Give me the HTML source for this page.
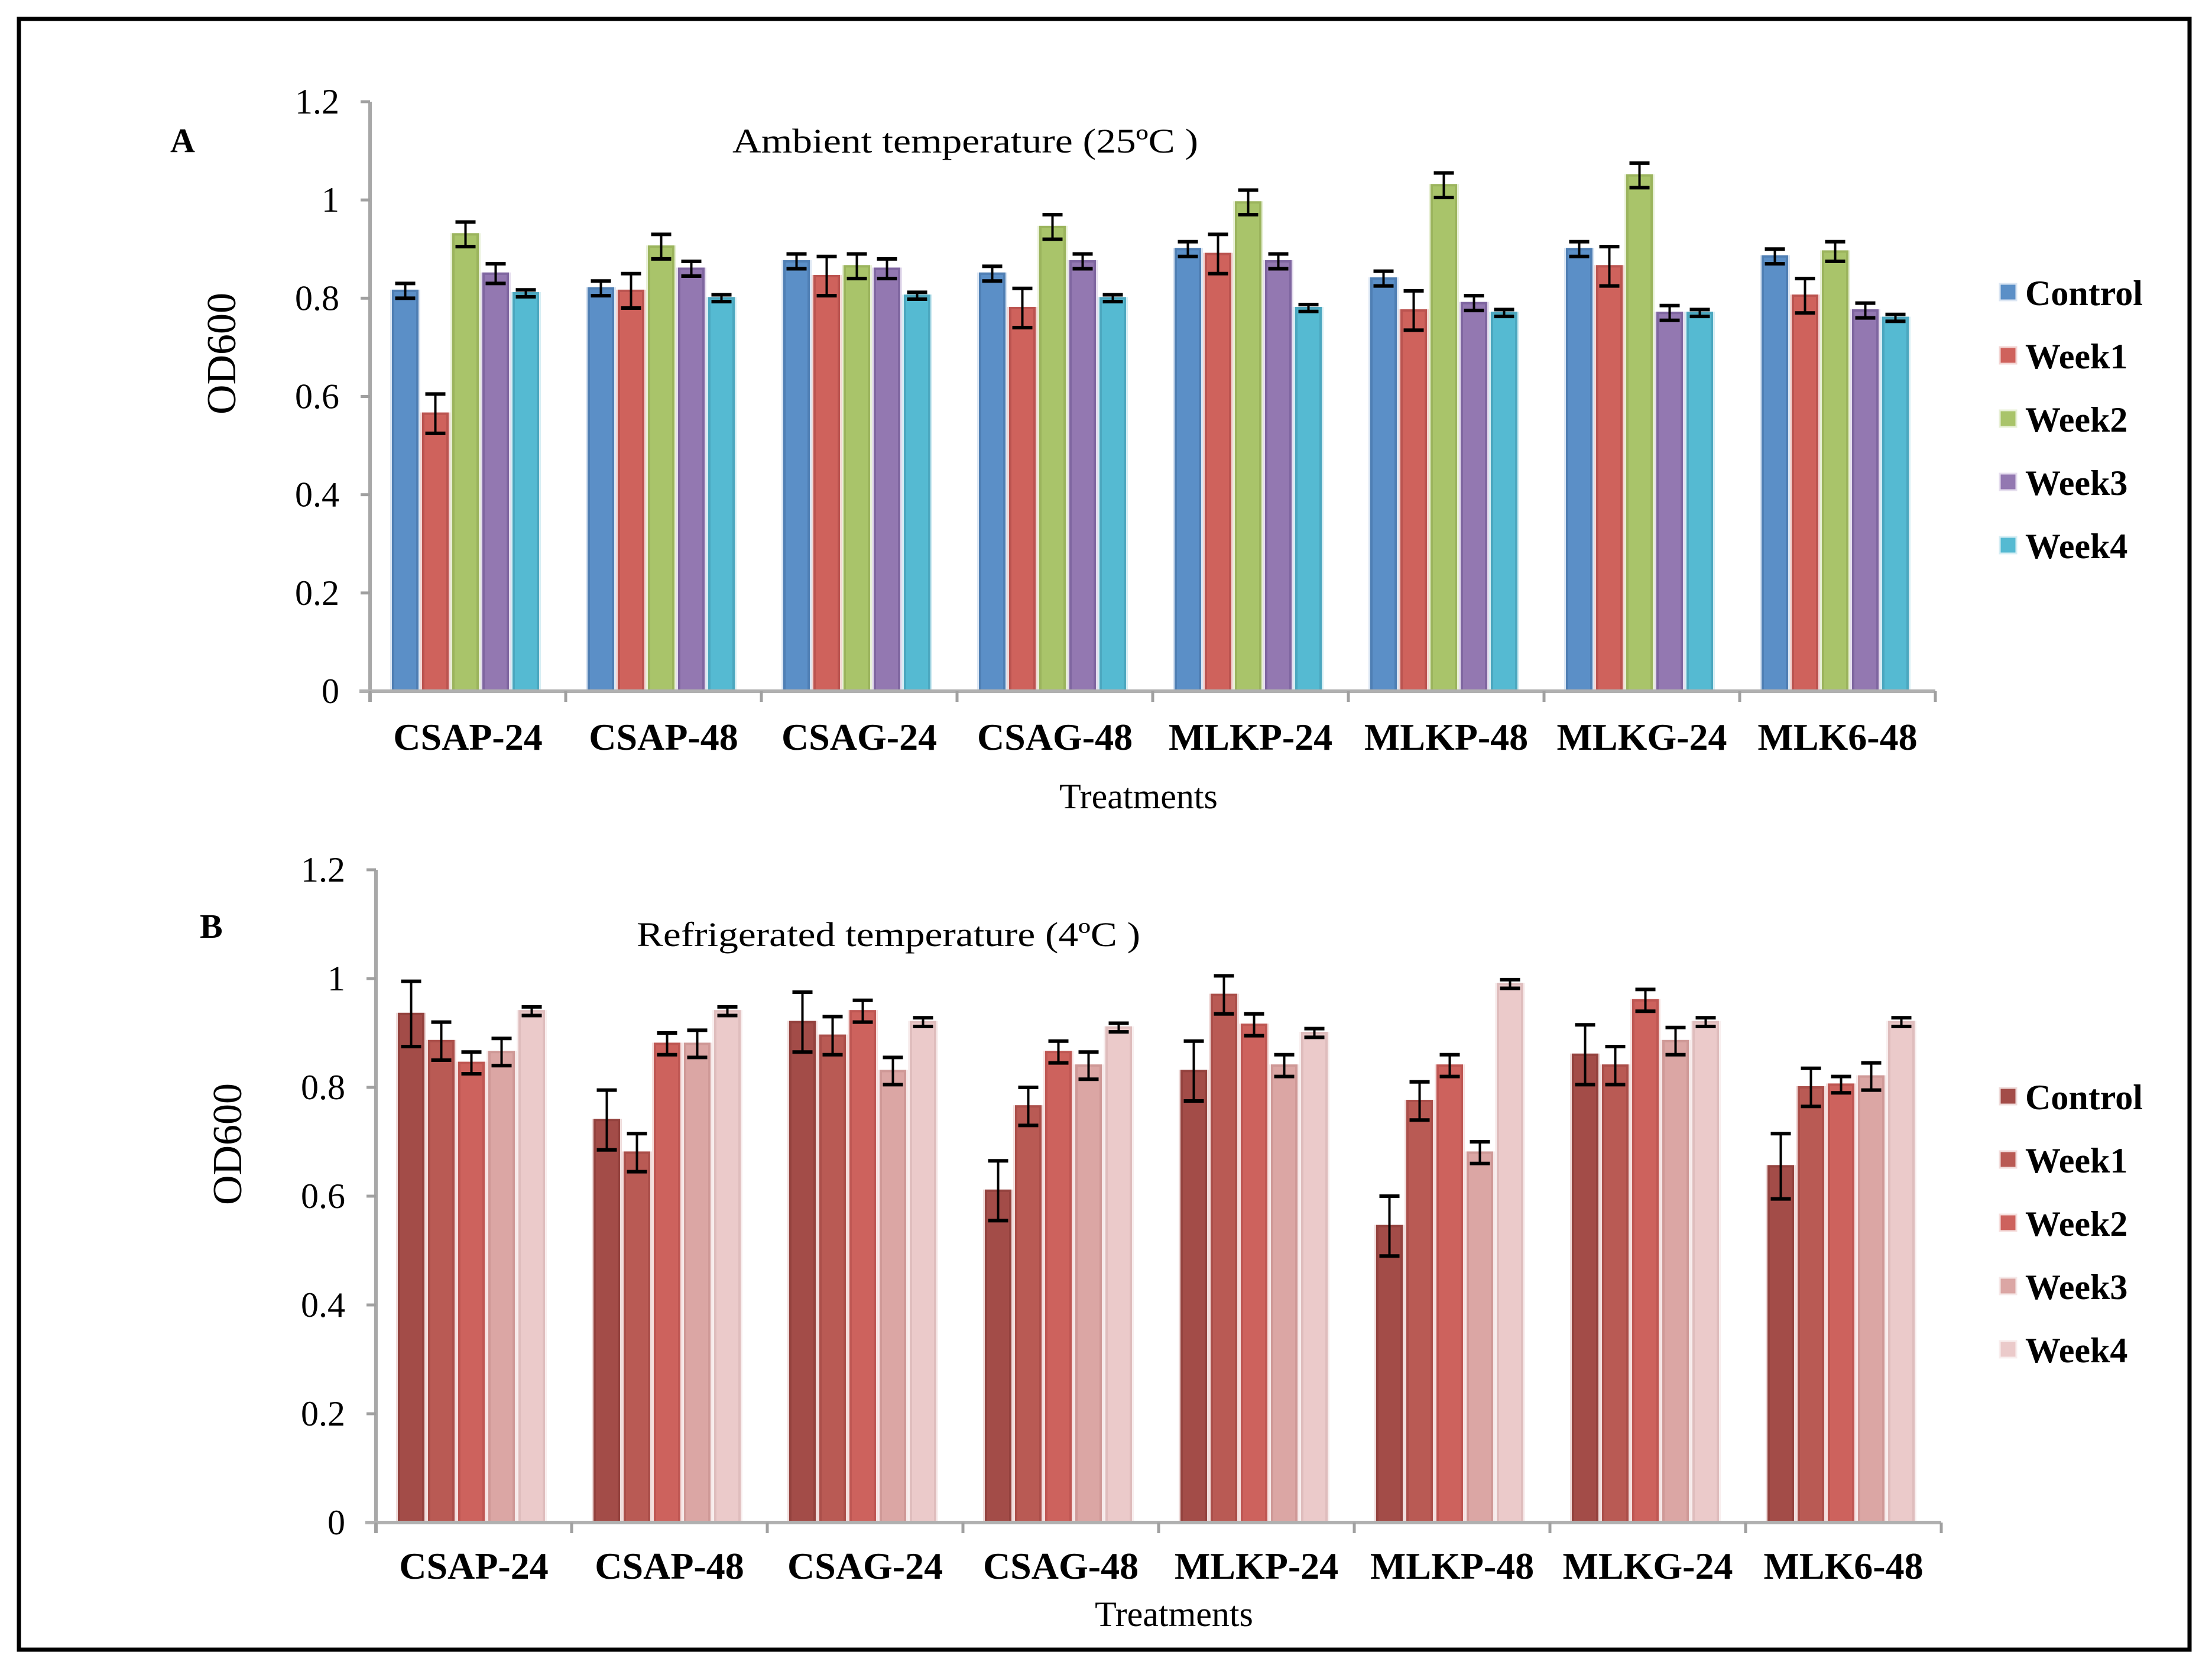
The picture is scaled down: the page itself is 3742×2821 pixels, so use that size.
<!DOCTYPE html>
<html><head><meta charset="utf-8">
<style>
html,body{margin:0;padding:0;background:#fff;}
svg{display:block;}
text{font-family:"Liberation Serif","DejaVu Serif",serif;fill:#000;}
</style></head>
<body>
<svg id="fig" width="3742" height="2821" viewBox="0 0 3742 2821" xmlns="http://www.w3.org/2000/svg">
<rect x="32" y="32" width="3672" height="2758" fill="#fff" stroke="#000" stroke-width="7"/>
<g id="chartA"></g>
<g id="chartB"></g>
</svg>
<script>
const categories = ["CSAP-24","CSAP-48","CSAG-24","CSAG-48","MLKP-24","MLKP-48","MLKG-24","MLK6-48"];
const seriesNames = ["Control","Week1","Week2","Week3","Week4"];
const yTicks = [0,0.2,0.4,0.6,0.8,1,1.2];
const yTickLabels = ["0","0.2","0.4","0.6","0.8","1","1.2"];

// Chart A – ambient temperature
const aControl = [0.815,0.82,0.875,0.85,0.9,0.84,0.9,0.885];
const aWeek1   = [0.565,0.815,0.845,0.78,0.89,0.775,0.865,0.805];
const aWeek2   = [0.93,0.905,0.865,0.945,0.995,1.03,1.05,0.895];
const aWeek3   = [0.85,0.86,0.86,0.875,0.875,0.79,0.77,0.775];
const aWeek4   = [0.81,0.8,0.805,0.8,0.78,0.77,0.77,0.76];
const aErrControl = [0.015,0.015,0.015,0.015,0.015,0.015,0.015,0.015];
const aErrWeek1   = [0.04,0.035,0.04,0.04,0.04,0.04,0.04,0.035];
const aErrWeek2   = [0.025,0.025,0.025,0.025,0.025,0.025,0.025,0.02];
const aErrWeek3   = [0.02,0.015,0.02,0.015,0.015,0.015,0.015,0.015];
const aErrWeek4   = [0.007,0.007,0.007,0.007,0.007,0.007,0.007,0.007];

// Chart B – refrigerated temperature
const bControl = [0.935,0.74,0.92,0.61,0.83,0.545,0.86,0.655];
const bWeek1   = [0.885,0.68,0.895,0.765,0.97,0.775,0.84,0.8];
const bWeek2   = [0.845,0.88,0.94,0.865,0.915,0.84,0.96,0.805];
const bWeek3   = [0.865,0.88,0.83,0.84,0.84,0.68,0.885,0.82];
const bWeek4   = [0.94,0.94,0.92,0.91,0.9,0.99,0.92,0.92];
const bErrControl = [0.06,0.055,0.055,0.055,0.055,0.055,0.055,0.06];
const bErrWeek1   = [0.035,0.035,0.035,0.035,0.035,0.035,0.035,0.035];
const bErrWeek2   = [0.02,0.02,0.02,0.02,0.02,0.02,0.02,0.015];
const bErrWeek3   = [0.025,0.025,0.025,0.025,0.02,0.02,0.025,0.025];
const bErrWeek4   = [0.008,0.008,0.008,0.008,0.008,0.008,0.008,0.008];

const NS = "http://www.w3.org/2000/svg";
function mk(tag, attrs, parent){
  const e = document.createElementNS(NS, tag);
  for (const k in attrs) e.setAttribute(k, attrs[k]);
  parent.appendChild(e);
  return e;
}

function drawChart(g, cfg){
  const yScale = v => cfg.y0 - (v/1.2)*(cfg.y0 - cfg.yTop);
  const catW = 331;
  const xBand = i => cfg.x0 + i*catW;
  const xEnd = cfg.x0 + categories.length*catW;

  const yAxis = mk("line",{x1:cfg.x0,y1:cfg.yTop,x2:cfg.x0,y2:cfg.y0+18,stroke:"#a8a8a8","stroke-width":6},g);
  
  
  yTicks.forEach((t,i)=>{
    const y = yScale(t);
    const tk = mk("line",{x1:cfg.x0-16,y1:y,x2:cfg.x0,y2:y,stroke:"#a0a0a0","stroke-width":5},g);
    
    
    const lb = mk("text",{x:cfg.x0-52,y:y+20,"text-anchor":"end","font-size":60},g);
    
    
    lb.textContent = yTickLabels[i];
  });

  const series = cfg.series, errs = cfg.errs;
  categories.forEach((c,i)=>{
    series.forEach((s,j)=>{
      const x = xBand(i) + 39 + j*51;
      const y = yScale(s[i]);
      const halo = mk("rect",{x:x-5,y:y-2,width:51,height:cfg.y0-y+2,fill:cfg.halo[j]},g);
      
      
      const r = mk("rect",{x:x,y:y,width:41,height:cfg.y0-y,fill:cfg.colors[j],stroke:cfg.edges[j],"stroke-width":4},g);
      
      
    });
  });
  categories.forEach((c,i)=>{
    series.forEach((s,j)=>{
      const cx = xBand(i) + 39 + j*51 + 20.5;
      const yh = yScale(s[i]+errs[j][i]), yl = yScale(s[i]-errs[j][i]);
      const eb = mk("g",{stroke:"#000","stroke-width":4},g);
      
      
      mk("line",{x1:cx,y1:yh,x2:cx,y2:yl},eb);
      mk("line",{x1:cx-17,y1:yh,x2:cx+17,y2:yh,"stroke-width":6},eb);
      mk("line",{x1:cx-17,y1:yl,x2:cx+17,y2:yl,"stroke-width":6},eb);
    });
  });

  const xAxis = mk("line",{x1:cfg.x0-18,y1:cfg.y0,x2:xEnd,y2:cfg.y0,stroke:"#b0b0b0","stroke-width":6},g);
  
  
  for (let i=0;i<=categories.length;i++){
    const tk = mk("line",{x1:xBand(i),y1:cfg.y0,x2:xBand(i),y2:cfg.y0+18,stroke:"#a0a0a0","stroke-width":5},g);
    
    
  }
  categories.forEach((c,i)=>{
    const t = mk("text",{x:xBand(i)+catW/2,y:cfg.xLabelY,"text-anchor":"middle","font-size":64,"font-weight":"bold"},g);
    
    
    t.textContent = c;
  });

  const xt = mk("text",{x:cfg.xTitleX,y:cfg.xTitleY,"text-anchor":"middle","font-size":60},g);
  
  
  xt.textContent = "Treatments";

  const yt = mk("text",{x:0,y:0,"text-anchor":"middle","font-size":70,transform:`translate(${cfg.yTitleX},${cfg.yTitleY}) rotate(-90)`},g);
  
  
  yt.textContent = "OD600";

  const pl = mk("text",{x:cfg.panelX,y:cfg.panelY,"font-size":58,"font-weight":"bold"},g);
  
  
  pl.textContent = cfg.panel;

  const ti = mk("text",{x:cfg.titleX,y:cfg.titleY,"font-size":58,textLength:cfg.titleW,lengthAdjust:"spacingAndGlyphs"},g);
  
  
  ti.textContent = cfg.title;

  seriesNames.forEach((n,j)=>{
    const ly = cfg.legendY + j*107;
    const sw = mk("rect",{x:3383,y:ly-15,width:28,height:28,fill:cfg.colors[j],stroke:cfg.halo[j],"stroke-width":3},g);
    
    
    const lt = mk("text",{x:3426,y:ly+21,"font-size":60,"font-weight":"bold"},g);
    
    
    lt.textContent = n;
  });
}

drawChart(document.getElementById("chartA"),{
  x0:626, y0:1169, yTop:172,
  series:[aControl,aWeek1,aWeek2,aWeek3,aWeek4],
  errs:[aErrControl,aErrWeek1,aErrWeek2,aErrWeek3,aErrWeek4],
  colors:["#5b8fc7","#cf625c","#a9c46a","#9378b1","#55bad2"],
  edges:["#4f7fb4","#bb5450","#9bb45d","#7f66a0","#4ba7bf"],
  halo:["#dbe6f3","#f3d6d4","#e8f0d7","#e5ddee","#d6eef4"],
  xLabelY:1268, xTitleX:1926, xTitleY:1367,
  yTitleX:398, yTitleY:598,
  panel:"A", panelX:288, panelY:257,
  title:"Ambient temperature (25ºC )", titleX:1239, titleY:258, titleW:788,
  legendY:495
});
drawChart(document.getElementById("chartB"),{
  x0:636, y0:2575, yTop:1471,
  series:[bControl,bWeek1,bWeek2,bWeek3,bWeek4],
  errs:[bErrControl,bErrWeek1,bErrWeek2,bErrWeek3,bErrWeek4],
  colors:["#a34c48","#b95a54","#cd625d","#dba6a4","#ebcaca"],
  edges:["#94423e","#ab4f4a","#bf5753","#cf9997","#dfbdbd"],
  halo:["#efdcdb","#f2dedd","#f6e0df","#f6e9e9","#f8eeee"],
  xLabelY:2670, xTitleX:1986, xTitleY:2750,
  yTitleX:408, yTitleY:1935,
  panel:"B", panelX:338, panelY:1586,
  title:"Refrigerated temperature (4ºC )", titleX:1077, titleY:1600, titleW:852,
  legendY:1855
});
</script>
</body></html>
